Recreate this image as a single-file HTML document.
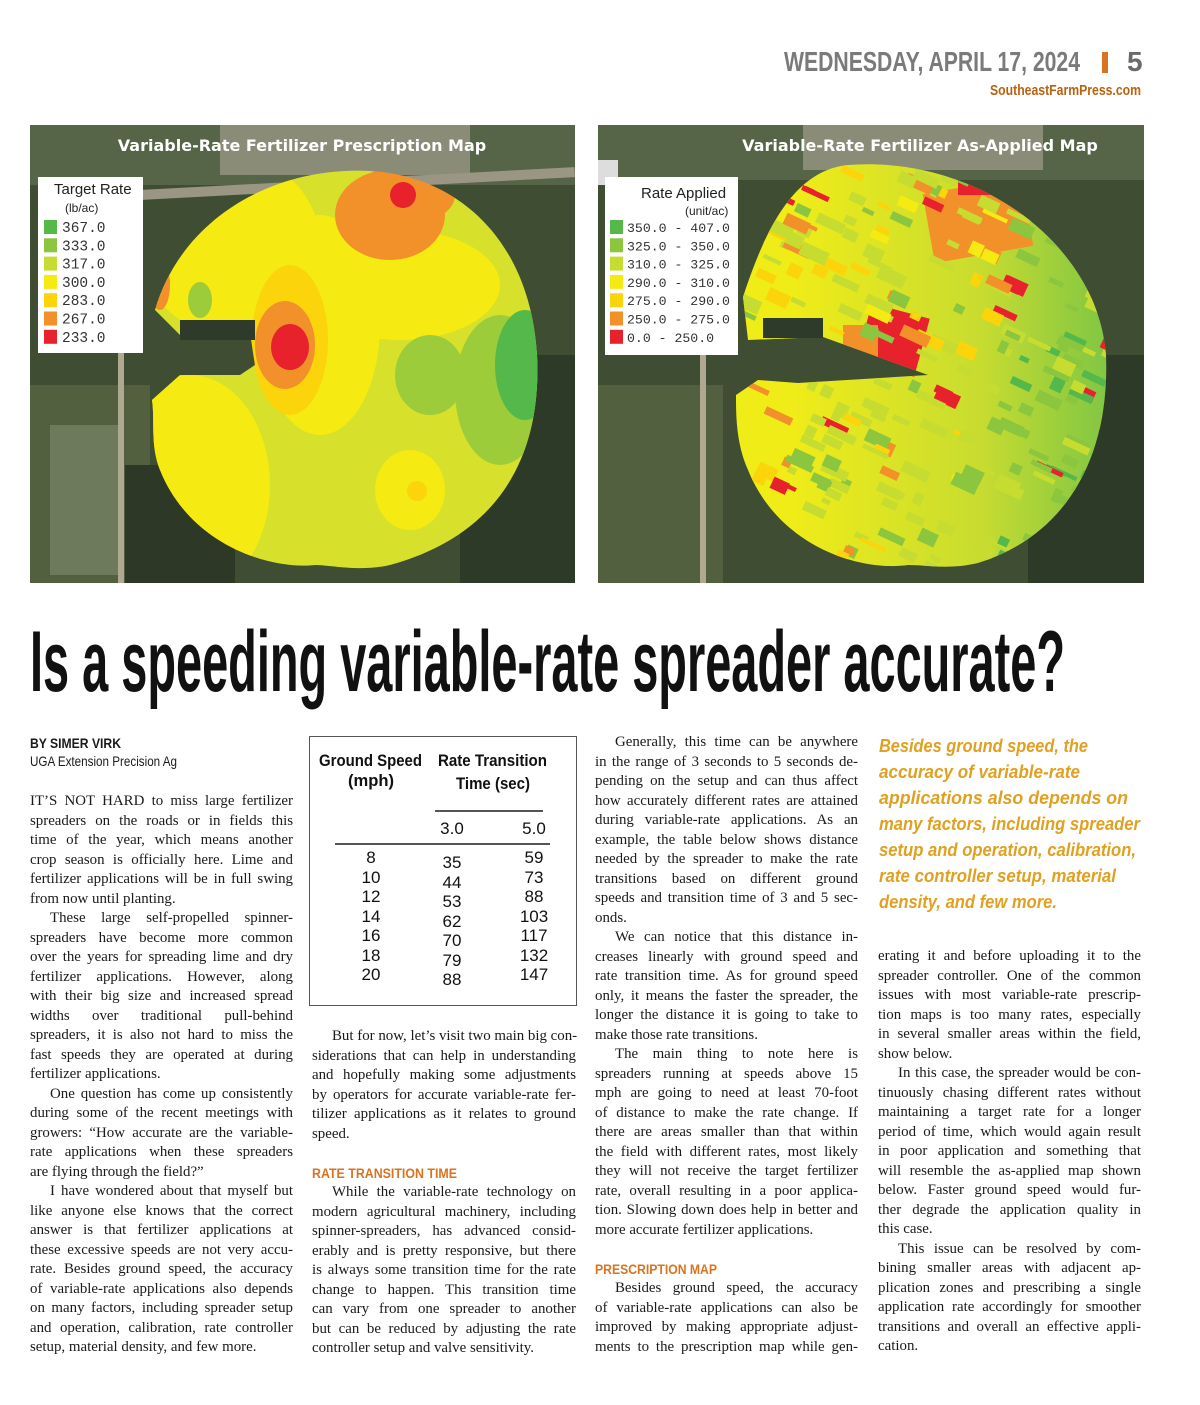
<!DOCTYPE html>
<html><head><meta charset="utf-8"><style>
html,body{margin:0;padding:0;background:#fff;}
body{width:1200px;height:1405px;position:relative;overflow:hidden;font-family:"Liberation Serif",serif;color:#1a1a1a;}
.abs{position:absolute;}
.col{position:absolute;font-family:"Liberation Serif",serif;font-size:14.9px;line-height:19.5px;}
.col div{white-space:nowrap;height:19.5px;}
.j{text-align:justify;text-align-last:justify;}
.in{text-indent:20px;}
.head{font-family:"Liberation Sans",sans-serif;font-weight:bold;color:#d9731f;font-size:13.5px;height:19.5px;line-height:19.5px;}
.fit{white-space:nowrap;transform-origin:0 0;display:inline-block;}
</style></head><body>

<div class="abs fit" data-w="296" style="left:784px;top:46px;font-family:'Liberation Sans',sans-serif;font-weight:bold;font-size:28px;color:#7a7a7a;line-height:32px;">WEDNESDAY, APRIL 17, 2024</div>
<div class="abs" style="left:1102px;top:52px;width:6px;height:21px;background:#d9731f;"></div>
<div class="abs" style="left:1127px;top:46px;font-family:'Liberation Sans',sans-serif;font-weight:bold;font-size:28px;color:#6a6a6a;line-height:32px;">5</div>
<div class="abs fit" data-w="151" style="left:990px;top:82px;font-family:'Liberation Sans',sans-serif;font-weight:bold;font-size:15px;color:#b8620f;line-height:18px;">SoutheastFarmPress.com</div>

<!-- LEFT MAP -->
<svg class="abs" style="left:30px;top:125px" width="545" height="458">
<defs><clipPath id="fieldL"><path d="M315,46 C420,40 500,110 507,230 C512,330 470,410 360,440 C330,447 300,440 285,440 C240,445 160,420 130,345 C120,320 125,295 122,275 L150,250 L210,250 L225,240 L218,195 L150,210 L125,185 C150,100 230,50 315,46Z"/></clipPath></defs>
<rect width="545" height="458" fill="#3f4d33"/>
<rect x="0" y="0" width="545" height="60" fill="#566547"/>
<rect x="190" y="0" width="250" height="50" fill="#8a8c78"/>
<rect x="100" y="55" width="445" height="10" fill="#9b9684" transform="rotate(-3 300 60)"/>
<rect x="0" y="260" width="120" height="198" fill="#52603f"/>
<rect x="20" y="300" width="70" height="150" fill="#6e7a5c"/>
<rect x="88" y="200" width="6" height="258" fill="#b0a890"/>
<rect x="430" y="230" width="115" height="228" fill="#2e3a28"/>
<rect x="95" y="340" width="110" height="118" fill="#2e3826"/>
<g clip-path="url(#fieldL)">
<rect width="545" height="458" fill="#d7e02a"/>
<ellipse cx="160" cy="360" rx="80" ry="110" fill="#f5ea12"/>
<ellipse cx="200" cy="120" rx="90" ry="90" fill="#f5ea12"/>
<ellipse cx="290" cy="200" rx="60" ry="110" fill="#f5ea12"/>
<ellipse cx="370" cy="160" rx="100" ry="55" fill="#f5ea12"/>
<ellipse cx="260" cy="215" rx="38" ry="75" fill="#fbd40c"/>
<ellipse cx="255" cy="220" rx="30" ry="44" fill="#f2902a"/>
<ellipse cx="260" cy="222" rx="19" ry="23" fill="#e8222d"/>
<ellipse cx="360" cy="90" rx="55" ry="45" fill="#f2902a"/>
<ellipse cx="375" cy="70" rx="50" ry="30" fill="#f2902a"/>
<circle cx="373" cy="70" r="13" fill="#e8222d"/>
<ellipse cx="470" cy="265" rx="45" ry="75" fill="#9ccc3a"/>
<ellipse cx="495" cy="240" rx="30" ry="55" fill="#55b84a"/>
<ellipse cx="400" cy="250" rx="35" ry="40" fill="#9ccc3a"/>
<ellipse cx="170" cy="175" rx="12" ry="18" fill="#9ccc3a"/>
<ellipse cx="380" cy="365" rx="35" ry="40" fill="#f5ea12"/>
<circle cx="387" cy="366" r="10" fill="#fbd40c"/>
<ellipse cx="130" cy="160" rx="10" ry="25" fill="#f2902a"/>
</g>
<rect x="150" y="195" width="75" height="20" fill="#2e3b2a"/>
<text x="272" y="26" text-anchor="middle" font-family="'DejaVu Sans',sans-serif" font-weight="bold" font-size="16" fill="#fff">Variable-Rate Fertilizer Prescription Map</text>
<g>
<rect x="8" y="52" width="105" height="176" fill="#fff"/>
<text x="24" y="69" font-family="'Liberation Sans',sans-serif" font-size="15" fill="#222">Target Rate</text>
<text x="35" y="87" font-family="'Liberation Sans',sans-serif" font-size="12" fill="#222">(lb/ac)</text>
</g>
<g id="legL"></g>
</svg>

<!-- RIGHT MAP -->
<svg class="abs" style="left:598px;top:125px" width="546" height="458">
<defs><clipPath id="fieldR"><path d="M250,40 C380,30 500,120 508,230 C512,330 470,410 380,438 C350,445 330,440 310,440 C260,447 180,420 150,345 C138,318 138,290 138,270 L160,255 L200,258 L330,250 L225,212 L150,215 L145,172 C170,95 200,45 250,40Z"/></clipPath>
<linearGradient id="gR" x1="0" y1="0" x2="1" y2="0"><stop offset="0.35" stop-color="#f0ec18"/><stop offset="0.7" stop-color="#c8dc30"/><stop offset="1" stop-color="#6cc04a"/></linearGradient></defs>
<rect width="546" height="458" fill="#3f4d33"/>
<rect x="0" y="0" width="546" height="55" fill="#566547"/>
<rect x="205" y="0" width="240" height="45" fill="#8a8c78"/>
<rect x="0" y="35" width="20" height="25" fill="#ddd"/>
<rect x="0" y="260" width="125" height="198" fill="#52603f"/>
<rect x="102" y="200" width="6" height="258" fill="#b0a890"/>
<rect x="430" y="230" width="116" height="228" fill="#2e3a28"/>
<g clip-path="url(#fieldR)">
<rect width="546" height="458" fill="url(#gR)"/>
<rect x="330" y="60" width="100" height="70" fill="#f2902a" transform="rotate(-10 380 95)"/>
<rect x="360" y="40" width="50" height="30" fill="#e8222d"/>
<rect x="265" y="185" width="60" height="60" fill="#e8222d" transform="rotate(15 295 215)"/>
<rect x="245" y="200" width="35" height="45" fill="#f2902a"/>
<g id="patches"></g>
</g>
<rect x="165" y="193" width="60" height="20" fill="#2e3b2a"/>
<text x="322" y="26" text-anchor="middle" font-family="'DejaVu Sans',sans-serif" font-weight="bold" font-size="16" fill="#fff">Variable-Rate Fertilizer As-Applied Map</text>
<g>
<rect x="7" y="52" width="133" height="178" fill="#fff"/>
<text x="43" y="73" font-family="'Liberation Sans',sans-serif" font-size="15" fill="#222">Rate Applied</text>
<text x="87" y="90" font-family="'Liberation Sans',sans-serif" font-size="12" fill="#222">(unit/ac)</text>
</g>
<g id="legR"></g>
</svg>

<div class="abs fit" data-w="1035" style="left:30px;top:616px;font-family:'Liberation Sans',sans-serif;font-weight:bold;font-size:86px;line-height:92px;color:#111;">Is a speeding variable-rate spreader accurate?</div>

<!-- COLUMN 1 -->
<div class="abs fit" data-w="91" style="left:30px;top:735px;font-family:'Liberation Sans',sans-serif;font-weight:bold;font-size:14px;">BY SIMER VIRK</div>
<div class="abs fit" data-w="147" style="left:30px;top:753px;font-family:'Liberation Sans',sans-serif;font-size:14px;">UGA Extension Precision Ag</div>
<div class="col" style="left:30px;top:792px;width:263px;">
<div class="j">IT’S NOT HARD to miss large fertilizer</div>
<div class="j">spreaders on the roads or in fields this</div>
<div class="j">time of the year, which means another</div>
<div class="j">crop season is officially here. Lime and</div>
<div class="j">fertilizer applications will be in full swing</div>
<div>from now until planting.</div>
<div class="j in">These large self-propelled spinner-</div>
<div class="j">spreaders have become more common</div>
<div class="j">over the years for spreading lime and dry</div>
<div class="j">fertilizer applications. However, along</div>
<div class="j">with their big size and increased spread</div>
<div class="j">widths over traditional pull-behind</div>
<div class="j">spreaders, it is also not hard to miss the</div>
<div class="j">fast speeds they are operated at during</div>
<div>fertilizer applications.</div>
<div class="j in">One question has come up consistently</div>
<div class="j">during some of the recent meetings with</div>
<div class="j">growers: “How accurate are the variable-</div>
<div class="j">rate applications when these spreaders</div>
<div>are flying through the field?”</div>
<div class="j in">I have wondered about that myself but</div>
<div class="j">like anyone else knows that the correct</div>
<div class="j">answer is that fertilizer applications at</div>
<div class="j">these excessive speeds are not very accu-</div>
<div class="j">rate. Besides ground speed, the accuracy</div>
<div class="j">of variable-rate applications also depends</div>
<div class="j">on many factors, including spreader setup</div>
<div class="j">and operation, calibration, rate controller</div>
<div>setup, material density, and few more.</div>
</div>

<!-- TABLE -->
<div class="abs" id="tbl" style="left:309px;top:736px;width:268px;height:270px;border:1.3px solid #555;box-sizing:border-box;font-family:'Liberation Sans',sans-serif;color:#111;">
<div class="abs fit" data-w="103" style="left:9px;top:14px;font-weight:bold;font-size:16.5px;line-height:21px;">Ground Speed</div>
<div class="abs fit" data-w="46" style="left:38px;top:34px;font-weight:bold;font-size:16.5px;line-height:21px;">(mph)</div>
<div class="abs fit" data-w="109" style="left:128px;top:14px;font-weight:bold;font-size:16.5px;line-height:21px;">Rate Transition</div>
<div class="abs fit" data-w="74" style="left:146px;top:37px;font-weight:bold;font-size:16.5px;line-height:21px;">Time (sec)</div>
<div class="abs" style="left:125px;top:73px;width:108px;height:1.5px;background:#555;"></div>
<div class="abs" style="left:25px;top:106px;width:215px;height:1.5px;background:#555;"></div>
</div>

<!-- COLUMN 2 -->
<div class="col" style="left:312px;top:1027px;width:264px;">
<div class="j in">But for now, let’s visit two main big con-</div>
<div class="j">siderations that can help in understanding</div>
<div class="j">and hopefully making some adjustments</div>
<div class="j">by operators for accurate variable-rate fer-</div>
<div class="j">tilizer applications as it relates to ground</div>
<div>speed.</div>
<div></div>
<div><span class="head fit" data-w="145">RATE TRANSITION TIME</span></div>
<div class="j in">While the variable-rate technology on</div>
<div class="j">modern agricultural machinery, including</div>
<div class="j">spinner-spreaders, has advanced consid-</div>
<div class="j">erably and is pretty responsive, but there</div>
<div class="j">is always some transition time for the rate</div>
<div class="j">change to happen. This transition time</div>
<div class="j">can vary from one spreader to another</div>
<div class="j">but can be reduced by adjusting the rate</div>
<div>controller setup and valve sensitivity.</div>
</div>

<!-- COLUMN 3 -->
<div class="col" style="left:595px;top:733px;width:263px;">
<div class="j in">Generally, this time can be anywhere</div>
<div class="j">in the range of 3 seconds to 5 seconds de-</div>
<div class="j">pending on the setup and can thus affect</div>
<div class="j">how accurately different rates are attained</div>
<div class="j">during variable-rate applications. As an</div>
<div class="j">example, the table below shows distance</div>
<div class="j">needed by the spreader to make the rate</div>
<div class="j">transitions based on different ground</div>
<div class="j">speeds and transition time of 3 and 5 sec-</div>
<div>onds.</div>
<div class="j in">We can notice that this distance in-</div>
<div class="j">creases linearly with ground speed and</div>
<div class="j">rate transition time. As for ground speed</div>
<div class="j">only, it means the faster the spreader, the</div>
<div class="j">longer the distance it is going to take to</div>
<div>make those rate transitions.</div>
<div class="j in">The main thing to note here is</div>
<div class="j">spreaders running at speeds above 15</div>
<div class="j">mph are going to need at least 70-foot</div>
<div class="j">of distance to make the rate change. If</div>
<div class="j">there are areas smaller than that within</div>
<div class="j">the field with different rates, most likely</div>
<div class="j">they will not receive the target fertilizer</div>
<div class="j">rate, overall resulting in a poor applica-</div>
<div class="j">tion. Slowing down does help in better and</div>
<div>more accurate fertilizer applications.</div>
<div></div>
<div><span class="head fit" data-w="122">PRESCRIPTION MAP</span></div>
<div class="j in">Besides ground speed, the accuracy</div>
<div class="j">of variable-rate applications can also be</div>
<div class="j">improved by making appropriate adjust-</div>
<div class="j">ments to the prescription map while gen-</div>
</div>

<!-- PULL QUOTE -->
<div class="abs" style="left:879px;top:733px;width:265px;font-family:'Liberation Sans',sans-serif;font-weight:bold;font-style:italic;font-size:18px;line-height:26px;color:#e0a020;">
<div style="height:26px"><span class="fit" data-w="209">Besides ground speed, the</span></div>
<div style="height:26px"><span class="fit" data-w="201">accuracy of variable-rate</span></div>
<div style="height:26px"><span class="fit" data-w="249">applications also depends on</span></div>
<div style="height:26px"><span class="fit" data-w="261">many factors, including spreader</span></div>
<div style="height:26px"><span class="fit" data-w="257">setup and operation, calibration,</span></div>
<div style="height:26px"><span class="fit" data-w="237">rate controller setup, material</span></div>
<div style="height:26px"><span class="fit" data-w="178">density, and few more.</span></div>
</div>

<!-- COLUMN 4 -->
<div class="col" style="left:878px;top:947px;width:263px;">
<div class="j">erating it and before uploading it to the</div>
<div class="j">spreader controller. One of the common</div>
<div class="j">issues with most variable-rate prescrip-</div>
<div class="j">tion maps is too many rates, especially</div>
<div class="j">in several smaller areas within the field,</div>
<div>show below.</div>
<div class="j in">In this case, the spreader would be con-</div>
<div class="j">tinuously chasing different rates without</div>
<div class="j">maintaining a target rate for a longer</div>
<div class="j">period of time, which would again result</div>
<div class="j">in poor application and something that</div>
<div class="j">will resemble the as-applied map shown</div>
<div class="j">below. Faster ground speed would fur-</div>
<div class="j">ther degrade the application quality in</div>
<div>this case.</div>
<div class="j in">This issue can be resolved by com-</div>
<div class="j">bining smaller areas with adjacent ap-</div>
<div class="j">plication zones and prescribing a single</div>
<div class="j">application rate accordingly for smoother</div>
<div class="j">transitions and overall an effective appli-</div>
<div>cation.</div>
</div>

<script>
// Table data
const speeds = [8, 10, 12, 14, 16, 18, 20];
const dist3s = [35, 44, 53, 62, 70, 79, 88];
const dist5s = [59, 73, 88, 103, 117, 132, 147];
const timeLabels = ["3.0", "5.0"];
// Legend data
const targetRates = ["367.0","333.0","317.0","300.0","283.0","267.0","233.0"];
const appliedRanges = ["350.0 - 407.0","325.0 - 350.0","310.0 - 325.0","290.0 - 310.0","275.0 - 290.0","250.0 - 275.0","  0.0 - 250.0"];
const legendColors = ["#55b84a","#8cc63f","#c6dc30","#f5ea12","#fbd40c","#f2902a","#e8222d"];

const tbl = document.getElementById('tbl');
function cell(txt, cx, top, name) {
  const d = document.createElement('div');
  
  
  d.className = 'abs';
  d.style.cssText = 'left:' + (cx - 30) + 'px;top:' + top + 'px;width:60px;text-align:center;font-size:17px;line-height:19.5px;';
  d.textContent = txt;
  tbl.appendChild(d);
}
const colX = [61, 142, 224];
timeLabels.forEach((t, i) => cell(t, colX[i + 1], 82, 'time-label'));
const rowY = i => 111 + i * 19.5;
speeds.forEach((s, i) => {
  cell(String(s), colX[0], rowY(i), 'speed-value');
  cell(String(dist3s[i]), colX[1], rowY(i) + 5, 'distance-3s');
  cell(String(dist5s[i]), colX[2], rowY(i), 'distance-5s');
});

const NS = 'http://www.w3.org/2000/svg';
function legend(gid, labels, x0, y0, dx, fs) {
  const g = document.getElementById(gid);
  labels.forEach((lab, i) => {
    const r = document.createElementNS(NS, 'rect');
    
    
    r.setAttribute('x', x0); r.setAttribute('y', y0 + i * 18.3 - 12);
    r.setAttribute('width', 13); r.setAttribute('height', 14);
    r.setAttribute('fill', legendColors[i]);
    g.appendChild(r);
    const t = document.createElementNS(NS, 'text');
    
    
    t.setAttribute('x', x0 + dx); t.setAttribute('y', y0 + i * 18.3);
    t.setAttribute('font-family', "'Liberation Mono',monospace");
    t.setAttribute('font-size', fs); t.setAttribute('fill', '#333');
    t.setAttribute('xml:space', 'preserve');
    t.textContent = lab;
    g.appendChild(t);
  });
}
legend('legL', targetRates, 14, 107, 18, 14.5);
legend('legR', appliedRanges, 12, 107, 17, 13.2);

// texture patches for as-applied map (deterministic)
let seed = 7;
function rnd() { seed = (seed * 9301 + 49297) % 233280; return seed / 233280; }
const pg = document.getElementById('patches');
for (let i = 0; i < 260; i++) {
  const x = 140 + rnd() * 370, y = 40 + rnd() * 400;
  let c;
  const r = rnd();
  if (x > 400) c = r < 0.4 ? "#8cc63f" : r < 0.7 ? "#55b84a" : r < 0.9 ? "#c6dc30" : "#e8222d";
  else c = r < 0.35 ? "#c6dc30" : r < 0.55 ? "#fbd40c" : r < 0.72 ? "#8cc63f" : r < 0.87 ? "#f2902a" : r < 0.95 ? "#e8222d" : "#f5ea12";
  const p = document.createElementNS(NS, 'rect');
  p.setAttribute('x', x); p.setAttribute('y', y);
  p.setAttribute('width', 8 + rnd() * 22); p.setAttribute('height', 4 + rnd() * 10);
  p.setAttribute('fill', c);
  p.setAttribute('transform', 'rotate(25 ' + x + ' ' + y + ')');
  pg.appendChild(p);
}

document.querySelectorAll('.fit[data-w]').forEach(e => {
  const sw = e.getBoundingClientRect().width;
  const w = parseFloat(e.getAttribute('data-w'));
  if (sw > 0) e.style.transform = 'scaleX(' + (w / sw) + ')';
});
</script>
</body></html>
